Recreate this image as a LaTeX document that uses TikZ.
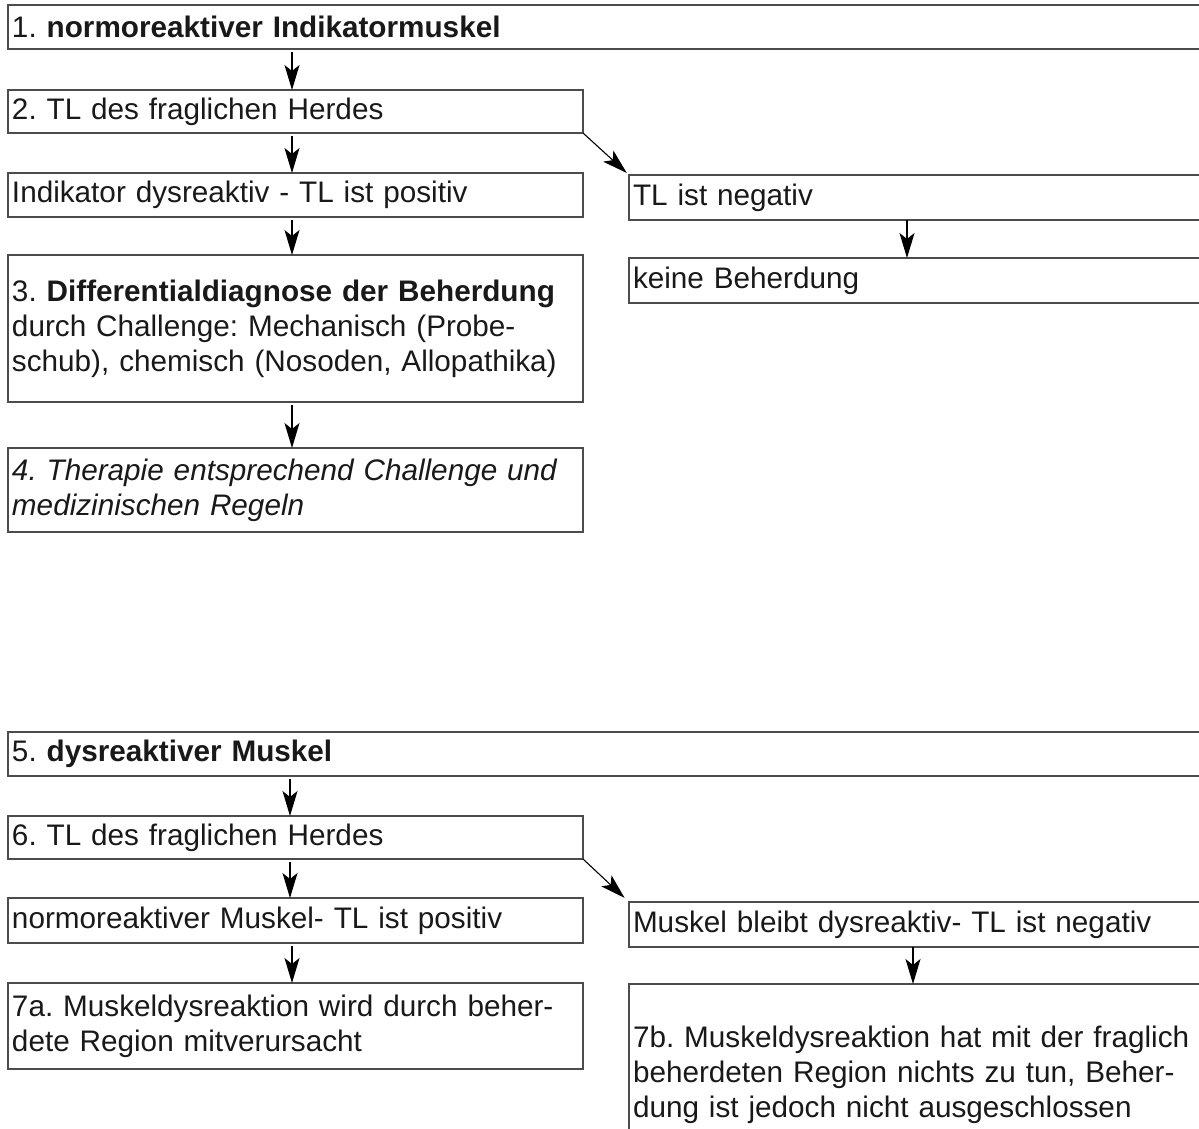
\documentclass[tikz,border=0pt]{standalone}
\usepackage{fontspec}
\setmainfont{Liberation Sans}
\usetikzlibrary{arrows.meta,calc}
\frenchspacing
\begin{document}
\begin{tikzpicture}[x=1pt,y=-1pt,
  box/.style={draw=black!70, line width=1.2pt, rectangle, anchor=north west,
    align=left, inner xsep=4pt, inner ysep=0pt, outer sep=0pt,
    font=\fontsize{29.7}{35}\selectfont\frenchspacing, text=black!90},
  lbox/.style={box, text width=567pt},
  rbox/.style={box, text width=583pt},
  fbox/.style={box, text width=1204pt},
  arr/.style={draw=black, line width=1.1pt, -{Stealth[length=25pt,width=15pt,inset=6pt]}, shorten <=3pt}
]
\useasboundingbox (0,0) rectangle (1199,1129);
\clip (0,0) rectangle (1199,1129);

% upper part
\node[fbox, minimum height=44pt] (n1) at (8,5) {1. \textbf{normoreaktiver Indikatormuskel}};
\node[lbox, minimum height=43pt] (n2) at (8,90) {2. TL des fraglichen Herdes};
\node[lbox, minimum height=44pt] (n3a) at (8,173) {Indikator dysreaktiv - TL ist positiv};
\node[rbox, minimum height=45pt] (r1) at (629,175) {TL ist negativ};
\node[rbox, minimum height=45pt] (r2) at (629,258) {keine Beherdung};
\node[lbox, minimum height=147pt] (n3) at (8,255) {3. \textbf{Differentialdiagnose der Beherdung}\\durch Challenge: Mechanisch (Probe-\\schub), chemisch (Nosoden, Allopathika)};
\node[lbox, minimum height=84pt] (n4) at (8,448) {\itshape 4. Therapie entsprechend Challenge und\\\itshape medizinischen Regeln};

\draw[arr] ($(n1.south west)+(284,0)$) -- ($(n2.north west)+(284,0)$);
\draw[arr] ($(n2.south west)+(284,0)$) -- ($(n3a.north west)+(284,0)$);
\draw[arr, shorten <=0pt, shorten >=3pt] (n2.south east) -- (r1.north west);
\draw[arr, shorten <=0pt] ($(r1.south west)+(278,0)$) -- ($(r2.north west)+(278,0)$);
\draw[arr] ($(n3a.south west)+(284,0)$) -- ($(n3.north west)+(284,0)$);
\draw[arr] ($(n3.south west)+(284,0)$) -- ($(n4.north west)+(284,0)$);

% lower part
\node[fbox, minimum height=44pt] (n5) at (8,732) {5. \textbf{dysreaktiver Muskel}};
\node[lbox, minimum height=43pt] (n6) at (8,816) {6. TL des fraglichen Herdes};
\node[lbox, minimum height=45pt] (n7p) at (8,898) {normoreaktiver Muskel- TL ist positiv};
\node[rbox, minimum height=45pt] (r3) at (629,902) {Muskel bleibt dysreaktiv- TL ist negativ};
\node[lbox, minimum height=86pt] (n7a) at (8,983) {7a. Muskeldysreaktion wird durch beher-\\dete Region mitverursacht};
\node[rbox, minimum height=182pt] (n7b) at (629,984) {7b. Muskeldysreaktion hat mit der fraglich\\beherdeten Region nichts zu tun, Beher-\\dung ist jedoch nicht ausgeschlossen};

\draw[arr] ($(n5.south west)+(282,0)$) -- ($(n6.north west)+(282,0)$);
\draw[arr] ($(n6.south west)+(282,0)$) -- ($(n7p.north west)+(282,0)$);
\draw[arr, shorten <=0pt, shorten >=6pt] (n6.south east) -- (r3.north west);
\draw[arr, shorten <=0pt] ($(r3.south west)+(284,0)$) -- ($(n7b.north west)+(284,0)$);
\draw[arr] ($(n7p.south west)+(284,0)$) -- ($(n7a.north west)+(284,0)$);
\end{tikzpicture}
\end{document}
